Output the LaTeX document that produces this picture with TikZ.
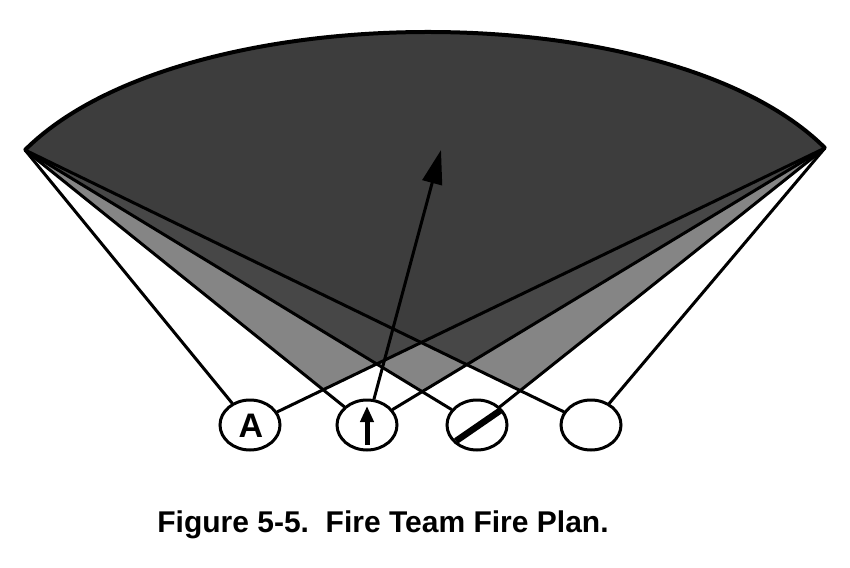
\documentclass[tikz,border=0pt]{standalone}
\usepackage{fontspec}
\setmainfont{Liberation Sans}
\usetikzlibrary{arrows.meta,shapes.geometric}
\definecolor{ctwo}{gray}{0.52}
\definecolor{cthree}{gray}{0.28}
\definecolor{cfour}{gray}{0.24}
\newcommand\sect[1]{(#1) -- (L) .. controls (k1) and (k2) .. (R) -- cycle}
\begin{document}
\begin{tikzpicture}[x=1pt,y=-1pt,
  ln/.style={line width=3pt, line cap=round},
  post/.style={draw, line width=3pt, fill=white, ellipse, minimum width=60pt, minimum height=50pt, inner sep=0pt}]
\useasboundingbox (0,0) rectangle (850,567);
\coordinate (L) at (25,150);
\coordinate (R) at (825,148);
\coordinate (k1) at (181,-6);
\coordinate (k2) at (669,-8);
\coordinate (pa) at (250,425);
\coordinate (pb) at (367,425);
\coordinate (pc) at (477,425);
\coordinate (pd) at (591,425);
\coordinate (tip) at (441,150);
% overlap shading
\foreach \i/\j in {pa/pb,pa/pc,pa/pd,pb/pc,pb/pd,pc/pd}{
  \begin{scope}\clip \sect{\i}; \fill[ctwo] \sect{\j};\end{scope}}
\foreach \i/\j/\k in {pa/pb/pc,pa/pb/pd,pa/pc/pd,pb/pc/pd}{
  \begin{scope}\clip \sect{\i}; \clip \sect{\j}; \fill[cthree] \sect{\k};\end{scope}}
\begin{scope}\clip \sect{pa}; \clip \sect{pb}; \clip \sect{pc}; \fill[cfour] \sect{pd};\end{scope}
% outline of the target area
\draw[line width=4pt, line join=round] (L) .. controls (k1) and (k2) .. (R);
% positions
\node[post] (A) at (pa) {};
\node[post] (B) at (pb) {};
\node[post] (C) at (pc) {};
\node[post] (D) at (pd) {};
\node[anchor=base, font=\fontsize{34}{36}\selectfont\bfseries] (Atext) at (251,437) {A};
\draw[line width=5pt, -{Triangle[length=16pt,width=13pt]}] ([yshift=-20pt]B.center) -- ([yshift=19pt]B.center);
\draw[line width=6.5pt] (456,441) -- (501,410);
% sectors of fire
\foreach \n in {A,B,C,D}{
  \draw[ln] (\n) -- (L);
  \draw[ln] (\n) -- (R);
}
\draw[line width=3pt, -{Triangle[length=34pt,width=20pt]}] (B) -- (tip);
\node[anchor=base, font=\fontsize{30}{35}\selectfont\bfseries] (cap) at (383,532) {Figure 5-5.\ \ Fire Team Fire Plan.};
\end{tikzpicture}
\end{document}
